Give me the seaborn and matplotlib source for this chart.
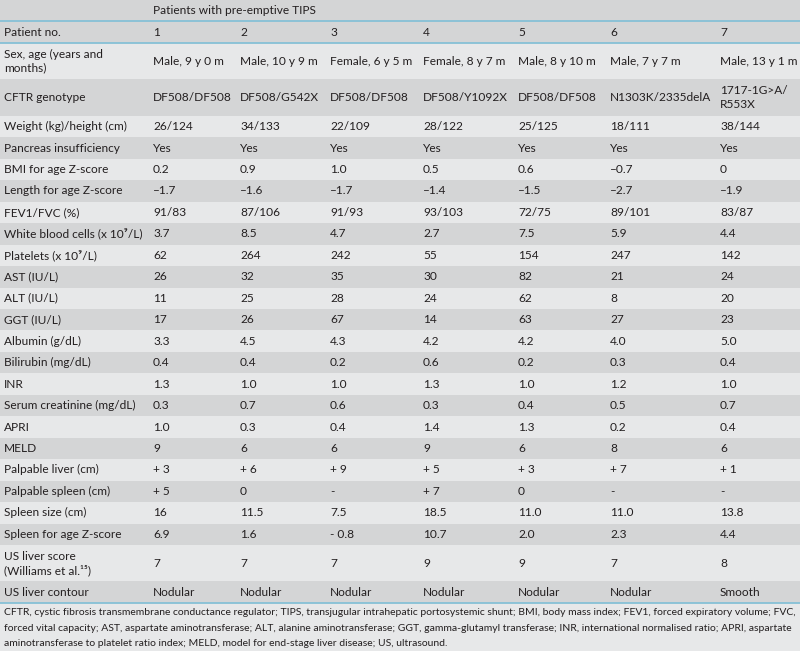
import matplotlib
matplotlib.use("Agg")
import matplotlib.pyplot as plt
import seaborn as sns

# table content
header = "Patients with pre-emptive TIPS"
first_label = "Patient no."
patient_no = ["1", "2", "3", "4", "5", "6", "7"]

row_labels = [
    "Sex, age (years and\nmonths)",
    "CFTR genotype",
    "Weight (kg)/height (cm)",
    "Pancreas insufficiency",
    "BMI for age Z-score",
    "Length for age Z-score",
    "FEV1/FVC (%)",
    "White blood cells (x 10\u2079/L)",
    "Platelets (x 10\u2079/L)",
    "AST (IU/L)",
    "ALT (IU/L)",
    "GGT (IU/L)",
    "Albumin (g/dL)",
    "Bilirubin (mg/dL)",
    "INR",
    "Serum creatinine (mg/dL)",
    "APRI",
    "MELD",
    "Palpable liver (cm)",
    "Palpable spleen (cm)",
    "Spleen size (cm)",
    "Spleen for age Z-score",
    "US liver score\n(Williams et al.\u00b9\u2075)",
    "US liver contour",
]

patient_1 = ["Male, 9 y 0 m", "DF508/DF508", "26/124", "Yes", "0.2", "\u20131.7", "91/83",
             "3.7", "62", "26", "11", "17", "3.3", "0.4", "1.3", "0.3", "1.0", "9",
             "+ 3", "+ 5", "16", "6.9", "7", "Nodular"]
patient_2 = ["Male, 10 y 9 m", "DF508/G542X", "34/133", "Yes", "0.9", "\u20131.6", "87/106",
             "8.5", "264", "32", "25", "26", "4.5", "0.4", "1.0", "0.7", "0.3", "6",
             "+ 6", "0", "11.5", "1.6", "7", "Nodular"]
patient_3 = ["Female, 6 y 5 m", "DF508/DF508", "22/109", "Yes", "1.0", "\u20131.7", "91/93",
             "4.7", "242", "35", "28", "67", "4.3", "0.2", "1.0", "0.6", "0.4", "6",
             "+ 9", "-", "7.5", "- 0.8", "7", "Nodular"]
patient_4 = ["Female, 8 y 7 m", "DF508/Y1092X", "28/122", "Yes", "0.5", "\u20131.4", "93/103",
             "2.7", "55", "30", "24", "14", "4.2", "0.6", "1.3", "0.3", "1.4", "9",
             "+ 5", "+ 7", "18.5", "10.7", "9", "Nodular"]
patient_5 = ["Male, 8 y 10 m", "DF508/DF508", "25/125", "Yes", "0.6", "\u20131.5", "72/75",
             "7.5", "154", "82", "62", "63", "4.2", "0.2", "1.0", "0.4", "1.3", "6",
             "+ 3", "0", "11.0", "2.0", "9", "Nodular"]
patient_6 = ["Male, 7 y 7 m", "N1303K/2335delA", "18/111", "Yes", "\u20130.7", "\u20132.7", "89/101",
             "5.9", "247", "21", "8", "27", "4.0", "0.3", "1.2", "0.5", "0.2", "8",
             "+ 7", "-", "11.0", "2.3", "7", "Nodular"]
patient_7 = ["Male, 13 y 1 m", "1717-1G>A/\nR553X", "38/144", "Yes", "0", "\u20131.9", "83/87",
             "4.4", "142", "24", "20", "23", "5.0", "0.4", "1.0", "0.7", "0.4", "6",
             "+ 1", "-", "13.8", "4.4", "8", "Smooth"]

footnote = [
    "CFTR, cystic fibrosis transmembrane conductance regulator; TIPS, transjugular intrahepatic "
    "portosystemic shunt; BMI, body mass index; FEV1, forced expiratory volume; FVC,",
    "forced vital capacity; AST, aspartate aminotransferase; ALT, alanine aminotransferase; GGT, "
    "gamma-glutamyl transferase; INR, international normalised ratio; APRI, aspartate",
    "aminotransferase to platelet ratio index; MELD, model for end-stage liver disease; US, ultrasound.",
]

columns = [patient_1, patient_2, patient_3, patient_4, patient_5, patient_6, patient_7]

sns.set_theme(style="white")
plt.rcParams["font.family"] = ["Lato", "DejaVu Sans"]

# layout (pixels)
col_x = [153, 240, 330, 423, 518, 610, 720]
label_x = 4
row_h = 21.46
extra_line = 15.0
dark = "#d4d5d6"
light = "#e7e8e9"
rule = "#86c1d6"
ink = "#231f20"
fs = 8.6

fig = plt.figure(figsize=(8, 6.51), dpi=100)
ax = fig.add_axes([0, 0, 1, 1])
ax.set_xlim(0, 800)
ax.set_ylim(651, 0)
ax.axis("off")
fig.patch.set_facecolor(light)

# header rows
y = 0.0
ax.axhspan(y, y + row_h, color=dark, lw=0)
ax.text(col_x[0], y + row_h / 2, header, va="center", ha="left", fontsize=fs, color=ink)
y += row_h
ax.axhspan(y, y + row_h, color=dark, lw=0)
ax.text(label_x, y + row_h / 2, first_label, va="center", ha="left", fontsize=fs, color=ink)
for cx, n in zip(col_x, patient_no):
    ax.text(cx, y + row_h / 2, n, va="center", ha="left", fontsize=fs, color=ink)
ax.axhline(row_h, color=rule, lw=1.3)
y += row_h
ax.axhline(y, color=rule, lw=1.3)

# body rows
for i, label in enumerate(row_labels):
    cells = [label] + [c[i] for c in columns]
    nlines = max(s.count("\n") + 1 for s in cells)
    h = row_h + extra_line * (nlines - 1)
    ax.axhspan(y, y + h, color=light if i % 2 == 0 else dark, lw=0)
    mid = y + h / 2
    ax.text(label_x, mid, label, va="center", ha="left", fontsize=fs, color=ink,
            linespacing=1.25)
    for cx, c in zip(col_x, columns):
        ax.text(cx, mid, c[i], va="center", ha="left", fontsize=fs, color=ink,
                linespacing=1.25)
    y += h
ax.axhline(y, color=rule, lw=1.3)

# footnote
for k, line in enumerate(footnote):
    ax.text(label_x, y + 10 + 15.3 * k, line, va="center", ha="left",
            fontsize=fs * 0.87, color=ink)

fig.savefig("out.png", dpi=100, facecolor=fig.get_facecolor())
